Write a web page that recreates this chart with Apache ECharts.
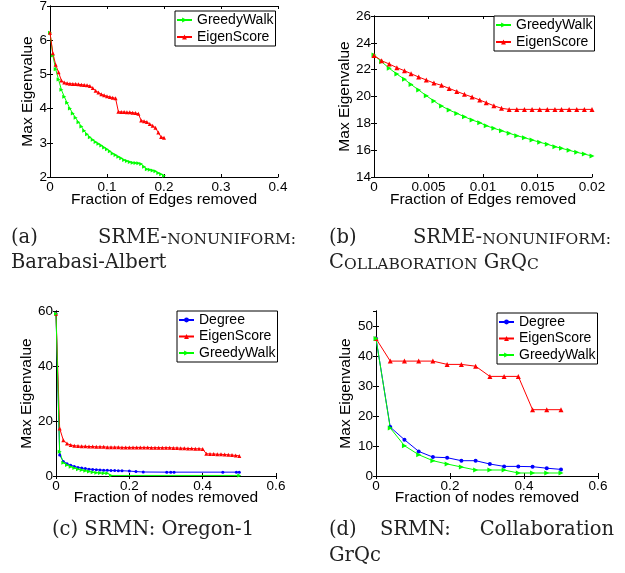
<!DOCTYPE html>
<html><head><meta charset="utf-8">
<script src="https://cdn.jsdelivr.net/npm/echarts@6/dist/echarts.min.js"></script>
<style>html,body{margin:0;padding:0;background:#fff}#c{width:625px;height:573px}</style>
</head><body><div id="c"></div>
<script>
// ---- Panel (a): SRME-nonuniform, Barabasi-Albert ----
const aX = [0,0.005,0.01,0.015,0.02,0.025,0.03,0.035,0.04,0.045,0.05,0.055,0.06,0.065,0.07,0.075,0.08,0.085,0.09,0.095,0.1,0.105,0.11,0.115,0.12,0.125,0.13,0.135,0.14,0.145,0.15,0.155,0.16,0.165,0.17,0.175,0.18,0.185,0.19,0.195,0.2];
const aGreedy = [6.22,5.55,5.15,4.85,4.55,4.35,4.17,4.0,3.86,3.73,3.6,3.48,3.35,3.25,3.16,3.09,3.02,2.97,2.92,2.86,2.81,2.75,2.69,2.64,2.59,2.55,2.5,2.47,2.44,2.42,2.41,2.4,2.38,2.3,2.23,2.21,2.19,2.17,2.12,2.08,2.04];
const aEigen = [6.22,5.62,5.28,5.06,4.82,4.76,4.74,4.73,4.72,4.72,4.71,4.70,4.69,4.68,4.66,4.6,4.52,4.47,4.42,4.39,4.36,4.34,4.32,4.3,3.91,3.9,3.9,3.89,3.89,3.88,3.87,3.85,3.65,3.63,3.61,3.55,3.5,3.44,3.3,3.17,3.15];

// ---- Panel (b): SRME-nonuniform, Collaboration GrQc ----
const bX = [0,0.0007,0.0014,0.0021,0.0028,0.0034,0.0041,0.0048,0.0055,0.0062,0.0069,0.0076,0.0083,0.009,0.0097,0.0103,0.011,0.0117,0.0124,0.0131,0.0138,0.0145,0.0152,0.0159,0.0166,0.0172,0.0179,0.0186,0.0193,0.02];
const bGreedy = [23.09,22.59,22.1,21.67,21.28,20.9,20.48,20.06,19.66,19.29,18.99,18.74,18.49,18.25,18.05,17.82,17.63,17.45,17.26,17.08,16.93,16.76,16.59,16.44,16.26,16.14,15.99,15.84,15.71,15.56];
const bEigen = [23.05,22.67,22.42,22.15,21.92,21.7,21.45,21.23,21.0,20.83,20.6,20.38,20.16,19.96,19.74,19.54,19.31,19.12,19.04,19.04,19.04,19.04,19.04,19.04,19.04,19.04,19.04,19.04,19.04,19.04];

// ---- Panel (c): SRMN, Oregon-1 ----
const cDegreeX = [0,0.01,0.02,0.03,0.04,0.05,0.06,0.07,0.08,0.09,0.1,0.11,0.12,0.13,0.14,0.15,0.16,0.17,0.18,0.2,0.218,0.238,0.302,0.313,0.322,0.455,0.492,0.5];
const cDegree = [59,7.6,5.3,4.5,3.9,3.5,3.1,2.9,2.7,2.5,2.4,2.3,2.2,2.1,2.1,2.0,2.0,1.9,1.9,1.8,1.6,1.45,1.4,1.4,1.4,1.4,1.4,1.4];
const cEigenX = [0,0.01,0.02,0.03,0.04,0.05,0.06,0.07,0.08,0.09,0.1,0.11,0.12,0.13,0.14,0.15,0.16,0.17,0.18,0.19,0.2,0.21,0.22,0.23,0.24,0.25,0.26,0.27,0.28,0.29,0.3,0.31,0.32,0.33,0.34,0.35,0.36,0.37,0.38,0.39,0.4,0.41,0.42,0.43,0.44,0.45,0.46,0.47,0.48,0.49,0.5];
const cEigen = [59,17.3,13.0,11.8,11.3,11.0,10.9,10.8,10.8,10.7,10.7,10.6,10.6,10.6,10.5,10.5,10.5,10.5,10.4,10.4,10.4,10.4,10.4,10.4,10.4,10.4,10.3,10.3,10.3,10.3,10.3,10.3,10.2,10.2,10.1,10.1,10.0,10.0,9.9,9.9,9.8,8.1,8.0,8.0,7.9,7.9,7.8,7.7,7.6,7.5,7.3];
const cGreedyX = [0,0.01,0.02,0.03,0.04,0.05,0.06,0.07,0.08,0.09,0.1,0.11,0.12,0.13,0.14,0.15,0.5];
const cGreedy = [59,8.8,4.8,4.0,3.4,2.9,2.5,2.2,1.9,1.6,1.4,1.2,1.1,1.0,1.0,0.2,0.2];

// ---- Panel (d): SRMN, Collaboration GrQc ----
const dX = [0,0.0385,0.0769,0.1154,0.1538,0.1923,0.2308,0.2692,0.3077,0.3462,0.3846,0.4231,0.4615,0.5];
const dDegree = [45.8,16.3,12.1,8.2,6.3,6.1,5.1,5.1,4.0,3.2,3.2,3.1,2.6,2.2];
const dEigen = [45.8,38.3,38.3,38.3,38.3,37.2,37.2,36.6,33.2,33.2,33.2,22.1,22.1,22.1];
const dGreedy = [45.8,16.0,10.1,7.1,5.1,4.0,3.0,2.0,2.0,2.0,1.0,1.0,1.0,1.0];

// ---- Tick/axis settings ----
const xTitles = ['Fraction of Edges removed','Fraction of Edges removed','Fraction of nodes removed','Fraction of nodes removed'];
const yTitle = 'Max Eigenvalue';

const SANS = 'Liberation Sans, Arial, Helvetica, sans-serif';
const SERIF = 'DejaVu Serif, serif';
const G = '#00ff00', R = '#ff0000', B = '#0000ff';
const RT = 'path://M0,0L2,1L0,2Z';

const grids = [
  {left:50, top:6, width:228, height:171},
  {left:374, top:16, width:218, height:161},
  {left:56, top:311, width:220, height:165},
  {left:376, top:311, width:222, height:165}
].map(g => Object.assign(g, {containLabel:false, outerBoundsMode:'none'}));

const xr = [[0,0.4,0.1],[0,0.02,0.005],[0,0.6,0.2],[0,0.6,0.2]];
const yr = [[2,7,1],[14,26,2],[0,60,20],[0,55,10]];
const xGap = [15,15,14,14];
const yGap = [14,21,21,22];

const line = {show:true, lineStyle:{color:'#000', width:1}};
const tick = {show:true, inside:true, length:3, lineStyle:{color:'#000', width:1}};
const lab = {color:'#000', fontFamily:SANS, fontSize:13.5};

const xAxis = [], yAxis = [];
for (let i = 0; i < 4; i++) {
  xAxis.push({type:'value', gridIndex:i, position:'bottom', min:xr[i][0], max:xr[i][1], interval:xr[i][2],
    name:xTitles[i], nameLocation:'middle', nameGap:xGap[i], nameMoveOverlap:false,
    nameTextStyle:{color:'#000', fontFamily:SANS, fontSize:15.5},
    axisLine:line, axisTick:tick, splitLine:{show:false},
    axisLabel:Object.assign({margin:3, hideOverlap:false}, lab)});
  yAxis.push({type:'value', gridIndex:i, position:'left', min:yr[i][0], max:yr[i][1], interval:yr[i][2],
    name:yTitle, nameLocation:'middle', nameGap:yGap[i], nameMoveOverlap:false,
    nameTextStyle:{color:'#000', fontFamily:SANS, fontSize:15.5},
    axisLine:line, axisTick:tick, splitLine:{show:false},
    axisLabel:Object.assign({margin:3, hideOverlap:false, showMaxLabel: i===3 ? false : true}, lab)});
}
for (let i = 0; i < 4; i++) {
  xAxis.push({type:'value', gridIndex:i, position:'top', min:xr[i][0], max:xr[i][1], interval:xr[i][2],
    axisLine:line, axisTick:tick, splitLine:{show:false}, axisLabel:{show:false}});
  yAxis.push({type:'value', gridIndex:i, position:'right', min:yr[i][0], max:yr[i][1], interval:yr[i][2],
    axisLine:line, axisTick:tick, splitLine:{show:false}, axisLabel:{show:false}});
}

function zip(xs, ys) { return xs.map((x, k) => [x, ys[k]]); }
function ser(name, gi, xs, ys, color, symbol, size) {
  return {type:'line', name:name, xAxisIndex:gi, yAxisIndex:gi, data:zip(xs, ys),
    symbol:symbol, symbolSize:size, showSymbol:true, clip:true,
    lineStyle:{color:color, width:1}, itemStyle:{color:color}, emphasis:{disabled:true}, animation:false};
}

const series = [
  ser('GreedyWalk', 0, aX, aGreedy, G, RT, 4),
  ser('EigenScore', 0, aX, aEigen, R, 'triangle', 4),
  ser('GreedyWalk', 1, bX, bGreedy, G, RT, 5),
  ser('EigenScore', 1, bX, bEigen, R, 'triangle', 5),
  ser('Degree', 2, cDegreeX, cDegree, B, 'circle', 3),
  ser('EigenScore', 2, cEigenX, cEigen, R, 'triangle', 4),
  ser('GreedyWalk', 2, cGreedyX, cGreedy, G, RT, 4),
  ser('Degree', 3, dX, dDegree, B, 'circle', 4),
  ser('EigenScore', 3, dX, dEigen, R, 'triangle', 5),
  ser('GreedyWalk', 3, dX, dGreedy, G, RT, 5)
];

function legend(names, left, top, gap) {
  return {orient:'vertical', left:left, top:top, data:names, selectedMode:false,
    borderColor:'#000', borderWidth:1, borderRadius:0, backgroundColor:'#fff',
    padding:[2,2,2,1], itemWidth:15, itemHeight:6, itemGap:gap,
    textStyle:{fontFamily:SANS, fontSize:14, color:'#000'}};
}

const capFont = 19.5, scFont = 15.5;
const rich = {
  b:{fontFamily:SERIF, fontSize:capFont, fill:'#222', verticalAlign:'bottom'},
  s:{fontFamily:SERIF, fontSize:scFont, fill:'#222', verticalAlign:'bottom'}
};
function txt(x, y, text, align) {
  return {type:'text', x:x, y:y, silent:true,
    style:{text:text, rich:rich, fontFamily:SERIF, fontSize:capFont, fill:'#222', align:align || 'left', verticalAlign:'middle'}};
}

const graphic = [
  txt(11, 238, '{b|(a)}'),
  txt(296, 238, '{b|SRME-}{s|NONUNIFORM:}', 'right'),
  txt(11, 263, '{b|Barabasi-Albert}'),
  txt(329, 238, '{b|(b)}'),
  txt(611, 238, '{b|SRME-}{s|NONUNIFORM:}', 'right'),
  txt(329, 263, '{b|C}{s|OLLABORATION} {b|G}{s|R}{b|Q}{s|C}'),
  txt(153, 530, '{b|(c) SRMN: Oregon-1}', 'center'),
  txt(329, 530, '{b|(d)}'),
  txt(380, 530, '{b|SRMN:}'),
  txt(614, 530, '{b|Collaboration}', 'right'),
  txt(329, 556, '{b|GrQc}')
];

const chart = echarts.init(document.getElementById('c'), null, {renderer:'canvas'});
chart.setOption({
  backgroundColor:'#fff',
  animation:false,
  grid:grids,
  xAxis:xAxis,
  yAxis:yAxis,
  legend:[
    legend(['GreedyWalk','EigenScore'], 175, 11, 3),
    legend(['GreedyWalk','EigenScore'], 494, 16, 3),
    legend(['Degree','EigenScore','GreedyWalk'], 177, 311, 2.5),
    legend(['Degree','EigenScore','GreedyWalk'], 497, 313, 2.5)
  ],
  series:series,
  graphic:graphic
});
</script>
</body></html>
